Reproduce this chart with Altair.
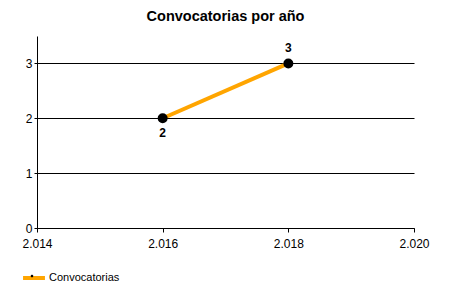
import altair as alt
import pandas as pd

years = [2016, 2018]
counts = [2, 3]
label_pos = ["below", "above"]
series = ["Convocatorias", "Convocatorias"]

df = pd.DataFrame({"anio": years, "n": counts, "pos": label_pos, "serie": series})

FONT = "Liberation Sans"

x = alt.X("anio:Q",
          scale=alt.Scale(domain=[2014, 2020], nice=False, zero=False),
          axis=alt.Axis(values=[2014, 2016, 2018, 2020], title=None, grid=False,
                        labelExpr="replace(format(datum.value, 'd'), /^(\\d)(\\d{3})$/, '$1.$2')",
                        labelFont=FONT, labelFontSize=12, labelColor="black",
                        tickColor="black", tickSize=4, domainColor="black",
                        labelPadding=6, labelFlush=False))
y = alt.Y("n:Q",
          scale=alt.Scale(domain=[0, 3.5], nice=False),
          axis=alt.Axis(values=[0, 1, 2, 3], title=None, grid=True, gridColor="black",
                        gridOpacity=1, labelFont=FONT, labelFontSize=12, labelColor="black",
                        tickColor="black", tickSize=3, domainColor="black", labelPadding=2))

line = alt.Chart(df).mark_line(strokeWidth=4).encode(
    x=x, y=y,
    color=alt.Color("serie:N", scale=alt.Scale(range=["#FFA500"]),
                    legend=alt.Legend(title=None, orient="none", legendX=-16, legendY=229,
                                      symbolType="stroke", symbolStrokeWidth=4, symbolSize=480,
                                      symbolStrokeColor="#FFA500",
                                      labelFont=FONT, labelFontSize=11, labelColor="black",
                                      labelOffset=2))
)

points = alt.Chart(df).mark_point(filled=True, size=100, opacity=1).encode(
    x=x, y=y,
    fill=alt.Fill("serie:N", scale=alt.Scale(range=["black"]),
                  legend=alt.Legend(title=None, orient="none", legendX=-16, legendY=229,
                                    symbolType="M0.12,0A0.12,0.12 0 1,1 -0.12,0A0.12,0.12 0 1,1 0.12,0Z",
                                    symbolSize=480, symbolStrokeWidth=0, symbolFillColor="black",
                                    labelFont=FONT, labelFontSize=11, labelColor="transparent",
                                    labelExpr="''", labelOffset=2))
)

text_above = alt.Chart(df).transform_filter(alt.datum.pos == "above").mark_text(
    dy=-15, fontWeight="bold", fontSize=12, font=FONT, color="black"
).encode(x=x, y=y, text="n:Q")

text_below = alt.Chart(df).transform_filter(alt.datum.pos == "below").mark_text(
    dy=15, fontWeight="bold", fontSize=12, font=FONT, color="black"
).encode(x=x, y=y, text="n:Q")

chart = alt.layer(line, points, text_above, text_below).properties(
    width=377, height=192,
    title=alt.Title("Convocatorias por año", font=FONT, fontSize=14.5, fontWeight="bold",
                    color="black", anchor="middle", offset=12),
    padding={"left": 37, "top": 36, "right": 36, "bottom": 72},
    autosize=alt.AutoSizeParams(type="none"),
).configure_view(stroke=None)

chart.save("out.html", embed_options={"renderer": "svg", "actions": False})
